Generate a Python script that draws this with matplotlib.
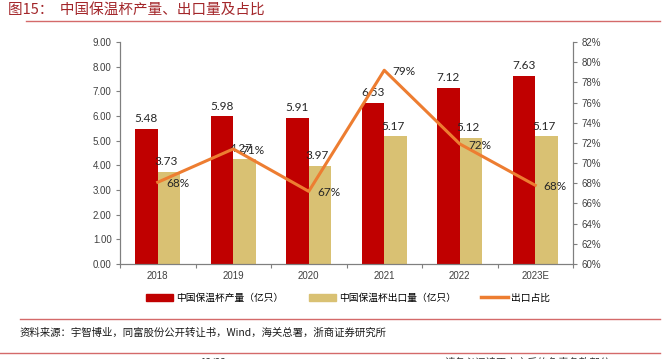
import numpy as np
import matplotlib.pyplot as plt
from matplotlib.lines import Line2D
from matplotlib.patches import Patch

plt.rcParams['font.family'] = ['Noto Sans CJK SC', 'DejaVu Sans']

years = ['2018', '2019', '2020', '2021', '2022', '2023E']
production = [5.48, 5.98, 5.91, 6.53, 7.12, 7.63]   # 亿只
exports = [3.73, 4.27, 3.97, 5.17, 5.12, 5.17]      # 亿只
export_share = [68.1, 71.4, 67.2, 79.2, 71.9, 67.8]  # %
share_labels = ['68%', '71%', '67%', '79%', '72%', '68%']

RED = '#C00000'
GOLD = '#D9C173'
ORANGE = '#ED7D31'
TITLE_RED = '#A3262A'
GREY = '#7F7F7F'

W, H = 667, 359
fig = plt.figure(figsize=(W / 100, H / 100), dpi=100)

def fx(px):
    return px / W

def fy(py):
    return 1 - py / H

ax = fig.add_axes([fx(120), fy(264), fx(573) - fx(120), fy(42) - fy(264)])
ax2 = ax.twinx()

x = np.arange(len(years))
bw = 0.3
ax.bar(x - bw / 2, production, bw, color=RED, zorder=2)
ax.bar(x + bw / 2, exports, bw, color=GOLD, zorder=2)

num_font = dict(family=['Lato', 'DejaVu Sans'], fontsize=8.5, color='#262626')
for i in x:
    ax.text(i - bw / 2, production[i] + 0.2, f'{production[i]:.2f}',
            ha='center', va='bottom', **num_font)
    ax.text(i + bw / 2 - 0.04, exports[i] + 0.2, f'{exports[i]:.2f}',
            ha='center', va='bottom', **num_font)

ax2.plot(x, export_share, color=ORANGE, linewidth=2.2, zorder=3)
for i in x:
    ax2.annotate(share_labels[i], (i, export_share[i]), xytext=(6, -1),
                 textcoords='offset points', ha='left', va='center', **num_font)

ax.set_xlim(-0.5, len(years) - 0.5)
ax.set_ylim(0, 9)
ax.set_yticks(np.arange(0, 9.01, 1))
ax.set_yticklabels([f'{v:.2f}' for v in np.arange(0, 9.01, 1)])
ax2.set_ylim(60, 82)
ax2.set_yticks(np.arange(60, 82.1, 2))
ax2.set_yticklabels([f'{v}%' for v in range(60, 83, 2)])

ax.set_xticks(np.arange(-0.5, len(years), 1))
ax.set_xticklabels([])
ax.set_xticks(x, minor=True)
ax.set_xticklabels(years, minor=True)
ax.tick_params(axis='x', which='minor', length=0, pad=5)
ax.tick_params(axis='x', which='major', length=3, color=GREY)

tick_font = ['Liberation Sans', 'DejaVu Sans']
for lab in ax.get_xticklabels(minor=True) + ax.get_yticklabels() + ax2.get_yticklabels():
    lab.set_family(tick_font)
    lab.set_fontsize(7)
    lab.set_color('#404040')

ax.tick_params(axis='y', length=3, color=GREY, pad=3)
ax2.tick_params(axis='y', length=3, color=GREY, pad=3)
for a in (ax, ax2):
    a.spines['top'].set_visible(False)
    for s in ('left', 'right', 'bottom'):
        a.spines[s].set_color(GREY)
        a.spines[s].set_linewidth(0.8)

handles = [Patch(color=RED), Patch(color=GOLD),
           Line2D([0], [0], color=ORANGE, linewidth=2.5)]
labels = ['中国保温杯产量（亿只）', '中国保温杯出口量（亿只）', '出口占比']
fig.legend(handles, labels, loc='center', bbox_to_anchor=(fx(348), fy(298)),
           ncol=3, frameon=False, fontsize=7, handlelength=2.8, handleheight=0.8,
           columnspacing=2.6, handletextpad=0.3)

fig.text(fx(8), fy(10), '图15：  中国保温杯产量、出口量及占比', color=TITLE_RED,
         fontsize=10.5, ha='left', va='center')
fig.add_artist(Line2D([fx(26), fx(660)], [fy(21), fy(21)], color='#D46A6A', linewidth=1))

fig.add_artist(Line2D([fx(20), fx(660)], [fy(319), fy(319)], color='#D46A6A', linewidth=1))
fig.text(fx(20), fy(333), '资料来源：宇智博业，同富股份公开转让书，Wind，海关总署，浙商证券研究所',
         fontsize=7.5, ha='left', va='center', color='#1a1a1a')
fig.add_artist(Line2D([fx(0), fx(660)], [fy(353), fy(353)], color='#D46A6A', linewidth=1))
fig.text(fx(200), fy(363), '13/33', fontsize=7, ha='left', va='center', color='#333333')
fig.text(fx(445), fy(363), '请务必阅读正文之后的免责条款部分', fontsize=7.5,
         ha='left', va='center', color='#333333')

fig.savefig('out.png', dpi=100)
